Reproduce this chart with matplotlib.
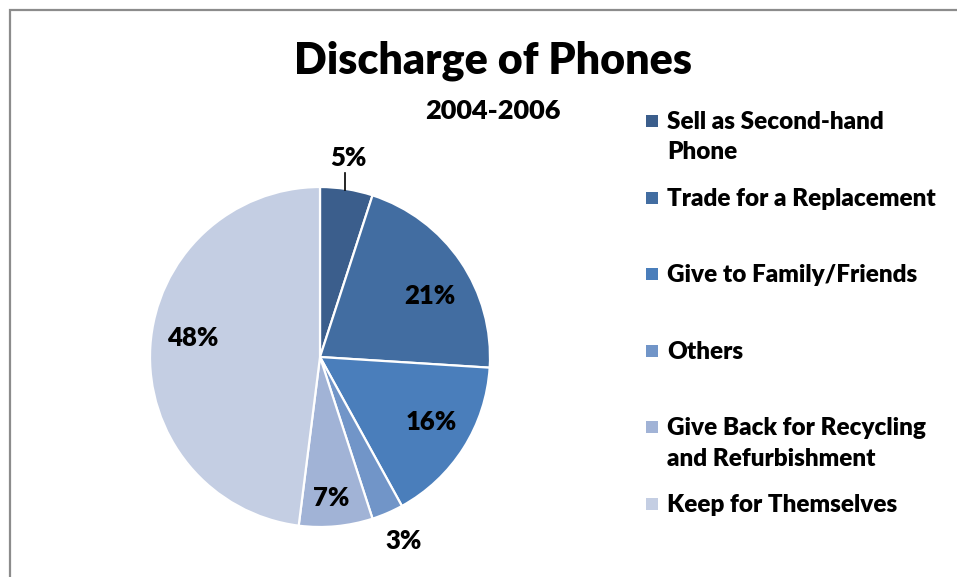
import matplotlib

matplotlib.use("Agg")

import matplotlib.pyplot as plt
import numpy as np
from matplotlib.patches import Rectangle

categories = [
    "Sell as Second-hand\nPhone",
    "Trade for a Replacement",
    "Give to Family/Friends",
    "Others",
    "Give Back for Recycling\nand Refurbishment",
    "Keep for Themselves",
]
shares = [5, 21, 16, 3, 7, 48]
colors = ["#3b5e8c", "#426da1", "#4a7ebb", "#7195c8", "#a1b3d6", "#c4cee3"]
# label placement: radial distance (fraction of radius) and angle nudge (deg)
label_r = [1.18, 0.74, 0.76, 1.19, 0.83, 0.76]
label_da = [1, -5, 2, 1, -1, -5]

plt.rcParams["font.family"] = ["Lato", "DejaVu Sans"]
WT = "heavy"

W, H = 957, 577
fig = plt.figure(figsize=(W / 100, H / 100), dpi=100)

# chart-area border (cut off at the right and bottom)
fig.patches.append(Rectangle((10 / W, -0.1), 1.2, 1 - 10 / H + 0.1, transform=fig.transFigure,
                             fill=False, ec="#8c8c8c", lw=1.6))

cx, cy, r = 320, 357, 170
ax = fig.add_axes([(cx - r) / W, (H - cy - r) / H, 2 * r / W, 2 * r / H])
wedges, _ = ax.pie(shares, colors=colors, startangle=90, counterclock=False, radius=1,
                   wedgeprops=dict(edgecolor="white", linewidth=1.6))
ax.set_xlim(-1, 1)
ax.set_ylim(-1, 1)
ax.set_aspect("equal")
ax.axis("off")

for w, d, da, v in zip(wedges, label_r, label_da, shares):
    ang = np.deg2rad((w.theta1 + w.theta2) / 2 + da)
    ax.text(d * np.cos(ang), d * np.sin(ang), f"{v}%", ha="center", va="center",
            fontsize=18.5, fontweight=WT, clip_on=False)
    if v == 5:
        ax.plot([0.147, 0.147], [0.985, 1.08], color="black", lw=1.2, clip_on=False)

fig.text(493 / W, 1 - 61 / H, "Discharge of Phones", ha="center", va="center",
         fontsize=31, fontweight=WT)
fig.text(493 / W, 1 - 111 / H, "2004-2006", ha="center", va="center",
         fontsize=19.5, fontweight=WT)

# legend
y0, dy = 121, 76.6
for i, (lab, c) in enumerate(zip(categories, colors)):
    y = y0 + i * dy
    fig.patches.append(Rectangle((646 / W, 1 - (y + 6) / H), 12 / W, 12 / H,
                                 transform=fig.transFigure, fc=c, ec="none"))
    fig.text(667 / W, 1 - (y - 10) / H, lab, ha="left", va="top", fontsize=17.5,
             fontweight=WT, linespacing=1.45)

fig.savefig("out.png", dpi=100)
